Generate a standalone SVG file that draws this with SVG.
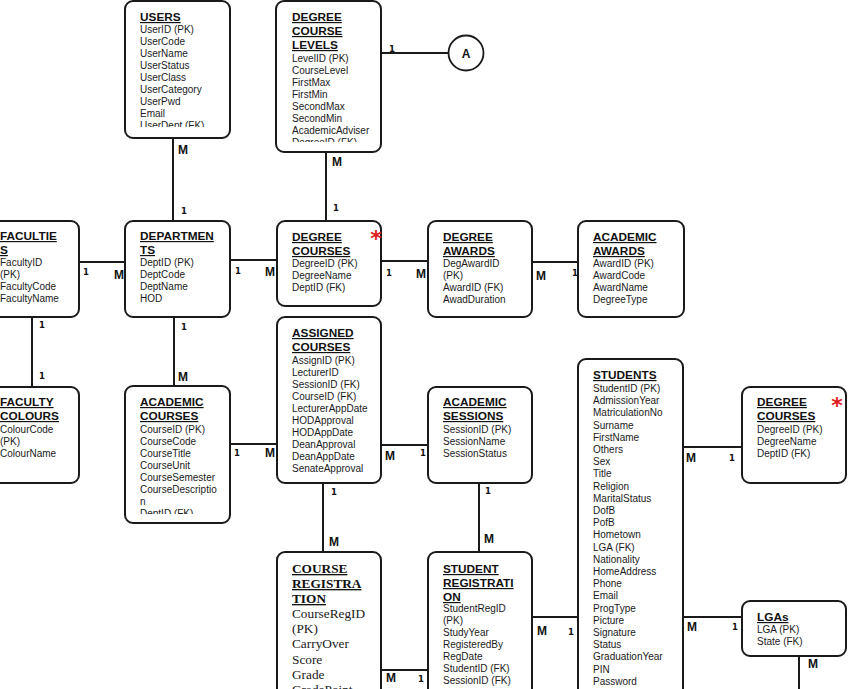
<svg xmlns="http://www.w3.org/2000/svg" width="850" height="689" viewBox="0 0 850 689">
<style>
.box{fill:#fff;stroke:#1a1a1a;stroke-width:2}
.t{font-family:"Liberation Sans",Arial,sans-serif;font-weight:bold;font-size:11.8px;text-decoration:underline;fill:#111}
.a{font-family:"Liberation Sans",Arial,sans-serif;font-size:10px;fill:#1a1a1a}
.ts{font-family:"Liberation Serif","Times New Roman",serif;font-weight:bold;font-size:13.3px;text-decoration:underline;fill:#111}
.as{font-family:"Liberation Serif","Times New Roman",serif;font-size:13.3px;fill:#1a1a1a}
.ln{stroke:#1a1a1a;stroke-width:2;fill:none}
.m{font-family:"Liberation Sans",Arial,sans-serif;font-weight:bold;font-size:12px;fill:#111}
.o{font-family:"DejaVu Sans",sans-serif;font-weight:bold;font-size:8.5px;fill:#111}
.star{font-family:"DejaVu Sans",sans-serif;font-weight:bold;font-size:22px;fill:#e02020;text-anchor:middle}
</style>
<defs>
<clipPath id="cUsers"><rect x="125" y="0" width="105" height="127"/></clipPath>
<clipPath id="cDcl"><rect x="276" y="0" width="105" height="142"/></clipPath>
<clipPath id="cAc"><rect x="125" y="386" width="105" height="128"/></clipPath>
</defs>
<g id="connectors">
<line class="ln" x1="173" y1="138" x2="173" y2="221"/>
<line class="ln" x1="381" y1="53" x2="448" y2="53"/>
<line class="ln" x1="326" y1="152" x2="326" y2="221"/>
<line class="ln" x1="79" y1="262" x2="125" y2="262"/>
<line class="ln" x1="230" y1="260" x2="277" y2="260"/>
<line class="ln" x1="381" y1="261" x2="428" y2="261"/>
<line class="ln" x1="532" y1="262" x2="578" y2="262"/>
<line class="ln" x1="32" y1="317" x2="32" y2="387"/>
<line class="ln" x1="174" y1="317" x2="174" y2="386"/>
<line class="ln" x1="230" y1="444" x2="277" y2="444"/>
<line class="ln" x1="381" y1="445" x2="428" y2="445"/>
<line class="ln" x1="323" y1="483" x2="323" y2="552"/>
<line class="ln" x1="479" y1="483" x2="479" y2="552"/>
<line class="ln" x1="381" y1="670" x2="428" y2="670"/>
<line class="ln" x1="532" y1="617" x2="578" y2="617"/>
<line class="ln" x1="683" y1="447" x2="742" y2="447"/>
<line class="ln" x1="683" y1="617" x2="742" y2="617"/>
<line class="ln" x1="799" y1="656" x2="799" y2="690"/>
<text class="m" x="178" y="154">M</text><text class="o" x="181" y="214">1</text>
<text class="o" x="389" y="52">1</text>
<text class="m" x="332" y="166">M</text><text class="o" x="333" y="211">1</text>
<text class="o" x="83" y="275">1</text><text class="m" x="114" y="279">M</text>
<text class="o" x="235" y="274">1</text><text class="m" x="265" y="276">M</text>
<text class="o" x="386" y="276">1</text><text class="m" x="416" y="278">M</text>
<text class="m" x="536" y="280">M</text><text class="o" x="572" y="276">1</text>
<text class="o" x="39" y="328">1</text><text class="o" x="39" y="379">1</text>
<text class="o" x="181" y="330">1</text><text class="m" x="178" y="381">M</text>
<text class="o" x="234" y="456">1</text><text class="m" x="265" y="457">M</text>
<text class="m" x="385" y="460">M</text><text class="o" x="420" y="456">1</text>
<text class="o" x="331" y="495">1</text><text class="m" x="329" y="546">M</text>
<text class="o" x="485" y="494">1</text><text class="m" x="484" y="543">M</text>
<text class="m" x="386" y="682">M</text><text class="o" x="418" y="682">1</text>
<text class="m" x="537" y="635">M</text><text class="o" x="568" y="635">1</text>
<text class="m" x="686" y="462">M</text><text class="o" x="729" y="461">1</text>
<text class="m" x="687" y="631">M</text><text class="o" x="732" y="630">1</text>
<text class="m" x="808" y="668">M</text>
</g>
<g id="circleA">
<circle cx="466" cy="53" r="17.5" fill="#fff" stroke="#1a1a1a" stroke-width="1.8"/>
<text x="466" y="57.5" text-anchor="middle" font-family="Liberation Sans,Arial,sans-serif" font-weight="bold" font-size="12" fill="#111">A</text>
</g>
<g id="users">
<rect class="box" x="125" y="1" width="105" height="137" rx="8"/>
<text class="t" x="140" y="21">USERS</text>
<g clip-path="url(#cUsers)">
<text class="a" x="140" y="33">UserID (PK)</text>
<text class="a" x="140" y="45">UserCode</text>
<text class="a" x="140" y="57">UserName</text>
<text class="a" x="140" y="69">UserStatus</text>
<text class="a" x="140" y="81">UserClass</text>
<text class="a" x="140" y="93">UserCategory</text>
<text class="a" x="140" y="105">UserPwd</text>
<text class="a" x="140" y="117">Email</text>
<text class="a" x="140" y="129">UserDept (FK)</text>
</g>
</g>
<g id="degreeCourseLevels">
<rect class="box" x="276" y="1" width="105" height="151" rx="8"/>
<text class="t" x="292" y="21">DEGREE</text>
<text class="t" x="292" y="35">COURSE</text>
<text class="t" x="292" y="49">LEVELS</text>
<g clip-path="url(#cDcl)">
<text class="a" x="292" y="62">LevelID (PK)</text>
<text class="a" x="292" y="74">CourseLevel</text>
<text class="a" x="292" y="86">FirstMax</text>
<text class="a" x="292" y="98">FirstMin</text>
<text class="a" x="292" y="110">SecondMax</text>
<text class="a" x="292" y="122">SecondMin</text>
<text class="a" x="292" y="134">AcademicAdviser</text>
<text class="a" x="292" y="146">DegreeID (FK)</text>
</g>
</g>
<g id="faculties">
<rect class="box" x="-12" y="221" width="91" height="96" rx="8"/>
<text class="t" x="0" y="240">FACULTIE</text>
<text class="t" x="0" y="254">S</text>
<text class="a" x="0" y="266">FacultyID</text>
<text class="a" x="0" y="278">(PK)</text>
<text class="a" x="0" y="290">FacultyCode</text>
<text class="a" x="0" y="302">FacultyName</text>
</g>
<g id="departments">
<rect class="box" x="125" y="221" width="105" height="96" rx="8"/>
<text class="t" x="140" y="240">DEPARTMEN</text>
<text class="t" x="140" y="254">TS</text>
<text class="a" x="140" y="266">DeptID (PK)</text>
<text class="a" x="140" y="278">DeptCode</text>
<text class="a" x="140" y="290">DeptName</text>
<text class="a" x="140" y="302">HOD</text>
</g>
<g id="degreeCourses">
<rect class="box" x="277" y="221" width="104" height="85" rx="8"/>
<text class="t" x="292" y="241">DEGREE</text>
<text class="t" x="292" y="255">COURSES</text>
<text class="a" x="292" y="267">DegreeID (PK)</text>
<text class="a" x="292" y="279">DegreeName</text>
<text class="a" x="292" y="291">DeptID (FK)</text>
<text class="star" x="376" y="246">*</text>
</g>
<g id="degreeAwards">
<rect class="box" x="428" y="221" width="104" height="96" rx="8"/>
<text class="t" x="443" y="241">DEGREE</text>
<text class="t" x="443" y="255">AWARDS</text>
<text class="a" x="443" y="267">DegAwardID</text>
<text class="a" x="443" y="279">(PK)</text>
<text class="a" x="443" y="291">AwardID (FK)</text>
<text class="a" x="443" y="303">AwadDuration</text>
</g>
<g id="academicAwards">
<rect class="box" x="578" y="221" width="106" height="96" rx="8"/>
<text class="t" x="593" y="241">ACADEMIC</text>
<text class="t" x="593" y="255">AWARDS</text>
<text class="a" x="593" y="267">AwardID (PK)</text>
<text class="a" x="593" y="279">AwardCode</text>
<text class="a" x="593" y="291">AwardName</text>
<text class="a" x="593" y="303">DegreeType</text>
</g>
<g id="facultyColours">
<rect class="box" x="-12" y="387" width="91" height="96" rx="8"/>
<text class="t" x="0" y="406">FACULTY</text>
<text class="t" x="0" y="420">COLOURS</text>
<text class="a" x="0" y="433">ColourCode</text>
<text class="a" x="0" y="445">(PK)</text>
<text class="a" x="0" y="457">ColourName</text>
</g>
<g id="academicCourses">
<rect class="box" x="125" y="386" width="105" height="137" rx="8"/>
<text class="t" x="140" y="406">ACADEMIC</text>
<text class="t" x="140" y="420">COURSES</text>
<g clip-path="url(#cAc)">
<text class="a" x="140" y="433">CourseID (PK)</text>
<text class="a" x="140" y="445">CourseCode</text>
<text class="a" x="140" y="457">CourseTitle</text>
<text class="a" x="140" y="469">CourseUnit</text>
<text class="a" x="140" y="481">CourseSemester</text>
<text class="a" x="140" y="493">CourseDescriptio</text>
<text class="a" x="140" y="505">n</text>
<text class="a" x="140" y="517">DeptID (FK)</text>
</g>
</g>
<g id="assignedCourses">
<rect class="box" x="277" y="317" width="104" height="166" rx="8"/>
<text class="t" x="292" y="337">ASSIGNED</text>
<text class="t" x="292" y="351">COURSES</text>
<text class="a" x="292" y="364">AssignID (PK)</text>
<text class="a" x="292" y="376">LecturerID</text>
<text class="a" x="292" y="388">SessionID (FK)</text>
<text class="a" x="292" y="400">CourseID (FK)</text>
<text class="a" x="292" y="412">LecturerAppDate</text>
<text class="a" x="292" y="424">HODApproval</text>
<text class="a" x="292" y="436">HODAppDate</text>
<text class="a" x="292" y="448">DeanApproval</text>
<text class="a" x="292" y="460">DeanAppDate</text>
<text class="a" x="292" y="472">SenateApproval</text>
</g>
<g id="academicSessions">
<rect class="box" x="428" y="387" width="104" height="96" rx="8"/>
<text class="t" x="443" y="406">ACADEMIC</text>
<text class="t" x="443" y="420">SESSIONS</text>
<text class="a" x="443" y="433">SessionID (PK)</text>
<text class="a" x="443" y="445">SessionName</text>
<text class="a" x="443" y="457">SessionStatus</text>
</g>
<g id="courseRegistration">
<rect class="box" x="277" y="552" width="104" height="160" rx="8"/>
<text class="ts" x="292" y="573">COURSE</text>
<text class="ts" x="292" y="588">REGISTRA</text>
<text class="ts" x="292" y="603">TION</text>
<text class="as" x="292" y="618">CourseRegID</text>
<text class="as" x="292" y="633">(PK)</text>
<text class="as" x="292" y="648">CarryOver</text>
<text class="as" x="292" y="664">Score</text>
<text class="as" x="292" y="679">Grade</text>
<text class="as" x="292" y="694">GradePoint</text>
</g>
<g id="studentRegistration">
<rect class="box" x="428" y="552" width="104" height="160" rx="8"/>
<text class="t" x="443" y="573">STUDENT</text>
<text class="t" x="443" y="587">REGISTRATI</text>
<text class="t" x="443" y="601">ON</text>
<text class="a" x="443" y="612">StudentRegID</text>
<text class="a" x="443" y="624">(PK)</text>
<text class="a" x="443" y="636">StudyYear</text>
<text class="a" x="443" y="648">RegisteredBy</text>
<text class="a" x="443" y="660">RegDate</text>
<text class="a" x="443" y="672">StudentID (FK)</text>
<text class="a" x="443" y="684">SessionID (FK)</text>
</g>
<g id="students">
<rect class="box" x="578" y="359" width="105" height="360" rx="8"/>
<text class="t" x="593" y="379">STUDENTS</text>
<text class="a" x="593" y="392">StudentID (PK)</text>
<text class="a" x="593" y="404.2">AdmissionYear</text>
<text class="a" x="593" y="416.4">MatriculationNo</text>
<text class="a" x="593" y="428.6">Surname</text>
<text class="a" x="593" y="440.8">FirstName</text>
<text class="a" x="593" y="453">Others</text>
<text class="a" x="593" y="465.2">Sex</text>
<text class="a" x="593" y="477.4">Title</text>
<text class="a" x="593" y="489.6">Religion</text>
<text class="a" x="593" y="501.8">MaritalStatus</text>
<text class="a" x="593" y="514">DofB</text>
<text class="a" x="593" y="526.2">PofB</text>
<text class="a" x="593" y="538.4">Hometown</text>
<text class="a" x="593" y="550.6">LGA (FK)</text>
<text class="a" x="593" y="562.8">Nationality</text>
<text class="a" x="593" y="575">HomeAddress</text>
<text class="a" x="593" y="587.2">Phone</text>
<text class="a" x="593" y="599.4">Email</text>
<text class="a" x="593" y="611.6">ProgType</text>
<text class="a" x="593" y="623.8">Picture</text>
<text class="a" x="593" y="636">Signature</text>
<text class="a" x="593" y="648.2">Status</text>
<text class="a" x="593" y="660.4">GraduationYear</text>
<text class="a" x="593" y="672.6">PIN</text>
<text class="a" x="593" y="684.8">Password</text>
</g>
<g id="degreeCourses2">
<rect class="box" x="742" y="387" width="104" height="96" rx="8"/>
<text class="t" x="757" y="406">DEGREE</text>
<text class="t" x="757" y="420">COURSES</text>
<text class="a" x="757" y="433">DegreeID (PK)</text>
<text class="a" x="757" y="445">DegreeName</text>
<text class="a" x="757" y="457">DeptID (FK)</text>
<text class="star" x="837" y="413">*</text>
</g>
<g id="lgas">
<rect class="box" x="742" y="601" width="104" height="55" rx="8"/>
<text class="t" x="757" y="621">LGAs</text>
<text class="a" x="757" y="633">LGA (PK)</text>
<text class="a" x="757" y="645">State (FK)</text>
</g>
</svg>
